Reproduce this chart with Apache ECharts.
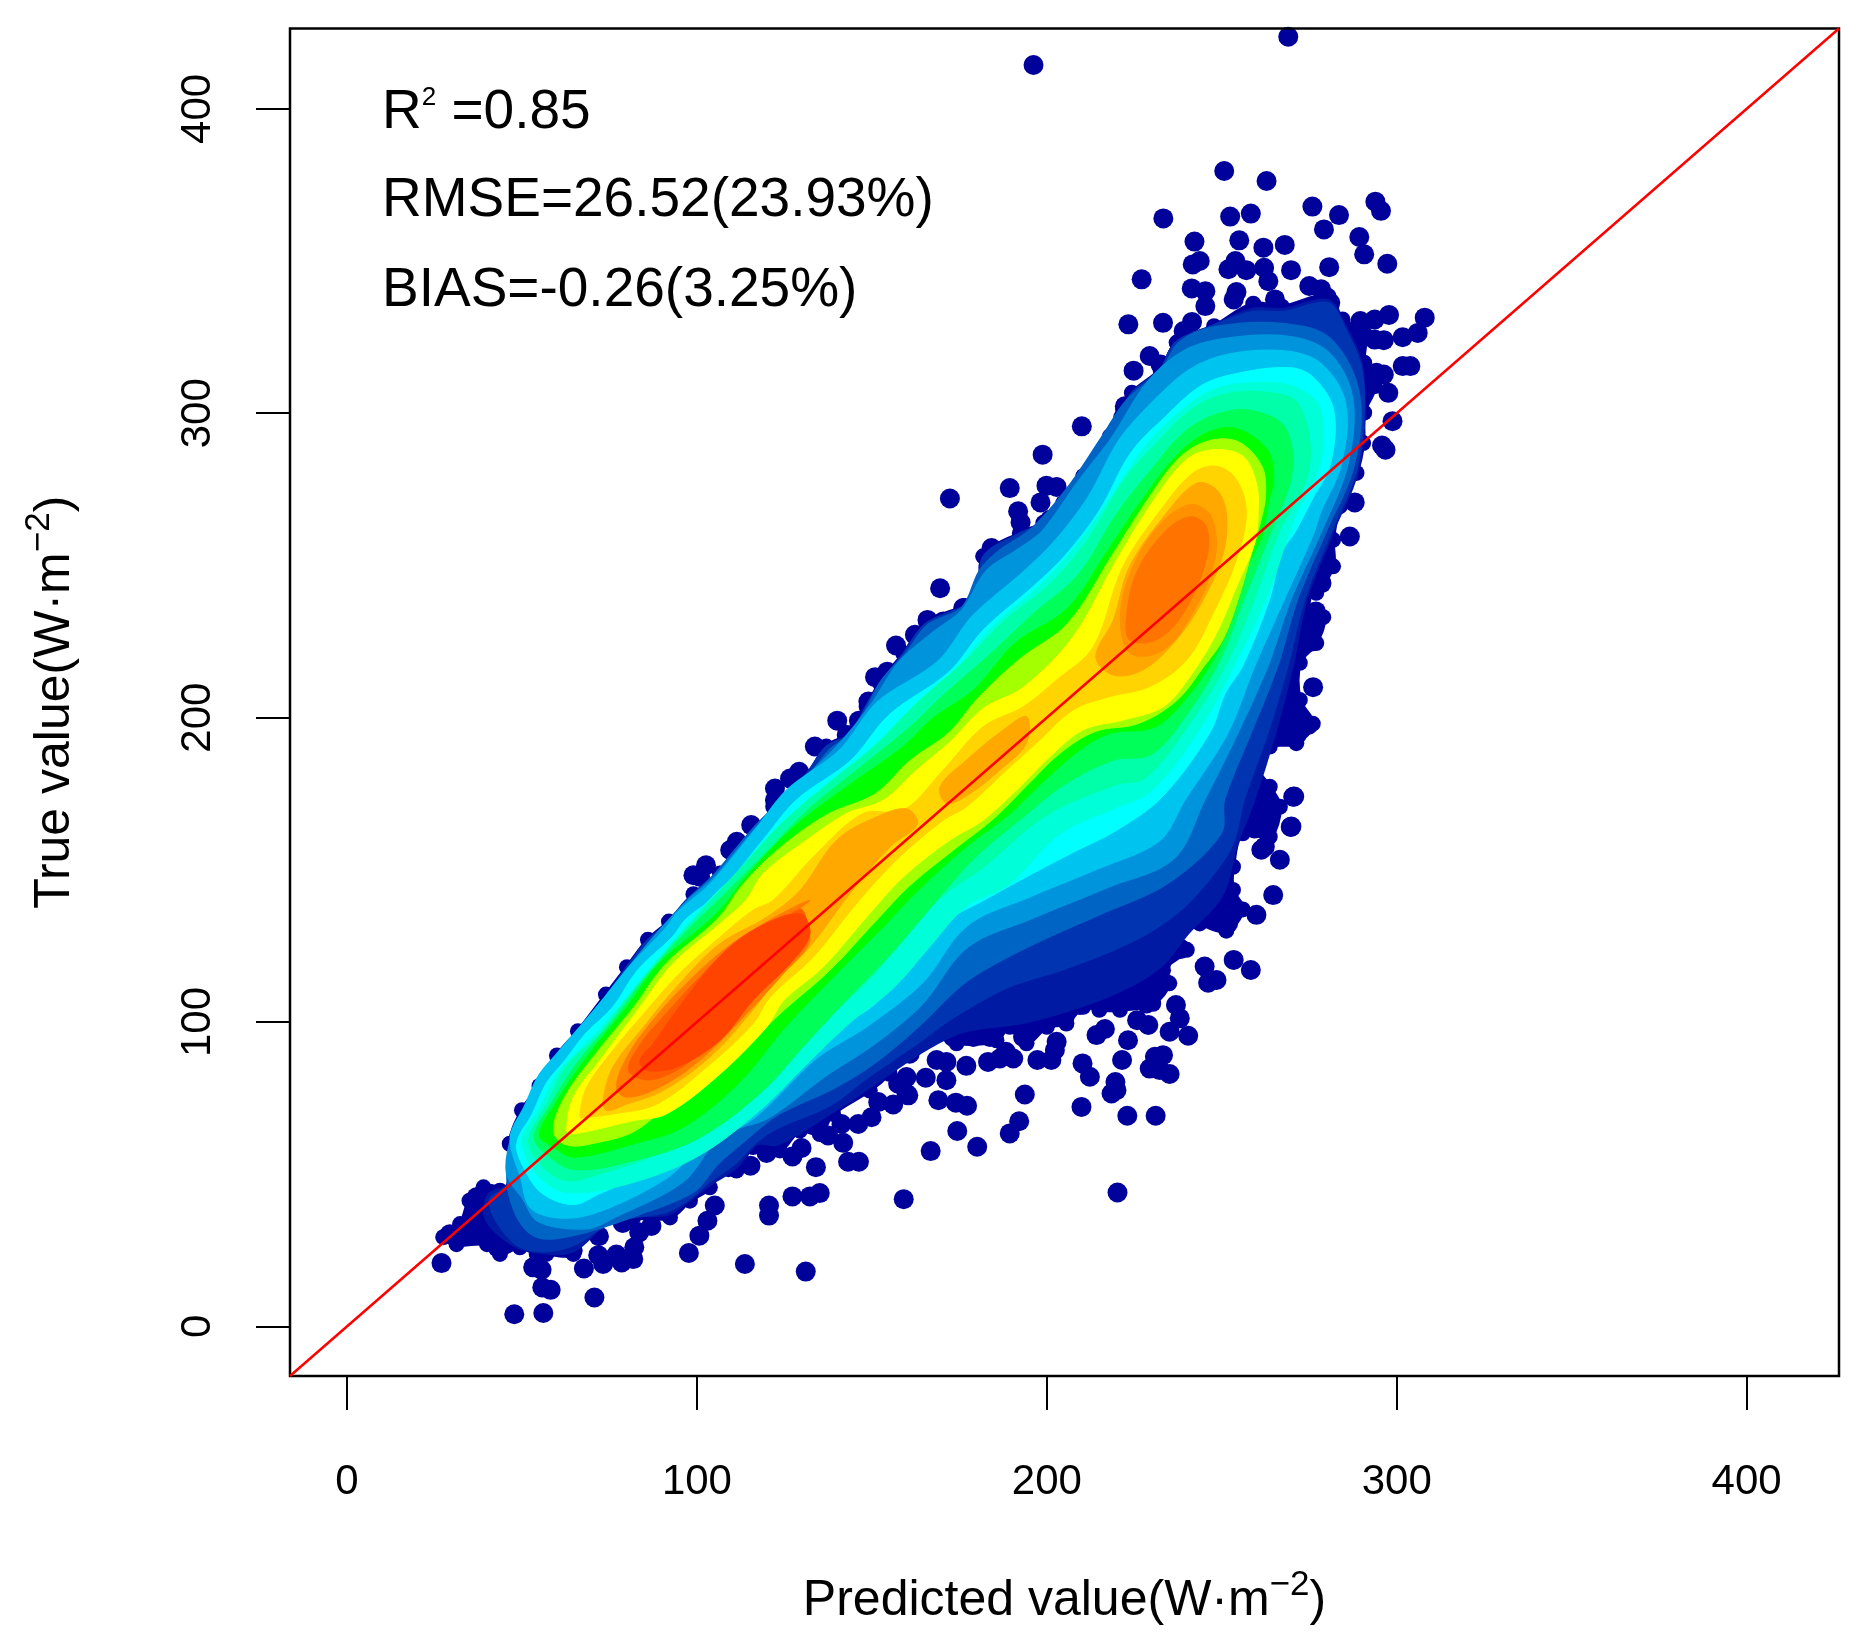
<!DOCTYPE html>
<html><head><meta charset="utf-8"><style>html,body{margin:0;padding:0;background:#fff}#c{width:1861px;height:1649px}</style>
<script src="https://cdn.jsdelivr.net/npm/echarts@6/dist/echarts.min.js"></script></head><body><div id="c"></div>
<script>
const xTicks=[0,100,200,300,400];
const yTicks=[0,100,200,300,400];
const axisMin=-16.3, axisMax=426.4;
const outliers=[[102.6,151.5],[99,148.2],[100.9,147.7],[111.4,159.2],[109.5,156.5],[115.5,164.7],[122.3,176.7],[126.6,180],[129.2,182.2],[122.3,172.9],[133.7,190.5],[140.1,199],[146.3,199],[142.8,194.3],[149,205.3],[150.9,213.3],[154.4,215.1],[156.9,223.7],[162.3,227.2],[165.9,232.1],[170.4,231.6],[176.6,236],
[47.8,4],[56.1,4.4],[70.7,9.5],[55.8,12.8],[58.2,12],[53.2,19.4],[55.6,18.6],[27,20.8],[67.7,19],[73.2,20.5],[71.8,23.4],[78.5,21],[81.8,22.1],[77,23.6],[82.1,26],[72,29.6],[83.5,30.9],[87,33],[78.8,34],[97.7,24.1],[100.7,29.8],[103,34.7],[105.1,39.7],[113.7,20.5],[131.1,18],[120.6,36.4],[120.6,39.7],[127.3,42.7],[132.3,42.7],[135.1,43.8],[159.1,41.8],[115.3,52.8],[134,52.3],[143.2,54.1],[146.3,54.1],[141.8,60.3],[127.3,55.8],[129.9,58.6],[119.9,57],[109,52.3],[43,26],[38.5,29.8],[32.8,29.3],[29.4,30.3],[37,42.4],[41.3,43.5],[64.5,25],[49.4,28.2],[137.5,62.7],[141.3,66.5],[146.1,66.5],[149.9,68.7],[151.8,73.7],[156.1,72.9],[160.4,75.9],[157.5,79.7],[159.9,81.9],[154.4,84.6],[160.8,89.6],
[220.2,44],[166.8,57.6],[180.1,59],[174.4,64.2],[189.4,63.4],[192.1,67.4],[209.9,72.1],[223,69.2],[231.1,69.2],[193.7,76.2],[169,74.3],[174,73.5],[177.2,72.5],[159.9,76.5],[171.3,80.9],[165.4,81.7],[177,85.6],[168.5,87.5],[171.3,86.9],[183.2,86.9],[186.6,88],[188.3,90.2],[190.4,88],[197.3,87.5],[201.3,87.5],[202.3,90.8],[202.8,93.5],[218.5,76.5],[219.9,77.6],[219.6,80.3],[212.3,82],[210.2,86.4],[221.5,87.5],[223.2,94],[214.2,95.7],[216.6,97.7],[225.8,100.6],[229,99],[229.4,84.7],[230.9,88.6],[233.2,89.1],[232.3,84.2],[235.1,82.9],[235.1,96.8],[240.4,95.5],[238,101.2],[236.9,105.6],[246.1,112.9],[248.5,113.8],[245.1,118.2],[253.4,120.4],[258.3,117.1],[238.3,124],[232.8,119.6],[233.2,113.2],[228.5,106.1],[220.4,106.1],[215.1,107.2],[209.4,105.6],[205.1,101.7],[199.9,100],[193.2,95.1],[192.3,98.4],[183.7,95.1],[179,95.1],[173.2,95.1],[190.9,107.2],[197,106.1],[251.8,132.4],[259.9,135.2],[264.7,141.7],[253.7,137.4],[243.7,135.7],[239.9,135.7],[266.6,153.3],[261.3,156.6],[269.9,164.2],[259.4,164.2],[262.8,163.1],[264.7,170.8],[270.7,174.1],
[196.2,414.4],[269,423.7],[250.7,379.6],[262.8,376.3],[233.3,364],[252.4,364.6],[258.3,365.6],[275.9,367.9],[283.5,365.1],[293.9,369.5],[295.5,366.5],[279.2,360.4],[289.3,357.9],[242.2,356.4],[255,356.8],[261.9,354.4],[268,355.3],[290.7,352.2],[297.3,349.1],[280.7,348],[269.8,347],[227.1,344],[243.7,350],[241.7,348.9],[253.9,350],[251.9,347.3],[257,347],[262.1,347.8],[263.3,343.4],[241.4,341],[245.3,340.1],[254.2,339.8],[245.3,335.2],[253.4,337.4],[275,341.8],[278.4,340.7],[281,336.3],[265.2,337.4],[223.3,329.2],[233.2,329.7],[241.5,330],[239.1,327],[297.8,332.3],[293.7,330.8],[289.6,330.3],[308,331.4],[306,326.4],[301.7,325],[293.7,324.2],[296.3,324],[229.4,318.8],[232.5,316],[224.8,314],[301.7,315.5],[303.9,315.5],[294.2,313.3],[296.3,312.7],[297.6,306.7],[298.8,297.4],[295.8,289.4],[296.8,288],[222.3,302.3],[221.8,298.5],[210,295.7],[198.8,286.4],
[189.4,275.4],[199.9,276.2],[202.8,275.8],[198.2,270.7],[191.8,267.8],[192.5,264.1],[200.9,265],[184.2,255.7],[192.8,257.4],[188.5,250.8],[183.3,251.9],[183.3,246.4],[288,270.7],[286.6,259.5],[278.5,244.2],[276.9,234.9],[275.6,225],[276.1,210],[274.7,197.6],[271.4,194.3],[270.4,174],[269.7,164.1],[261.8,174],[259.4,163.6],[262.8,163],[262.3,157.6],[264.2,170.7],[176.1,236],[172.3,272],[169.5,242.5]];
const bandNavy=[[35,41.3],[39,45.7],[43.7,44.6],[48.5,50],[46.5,60],[50,71],[55,79],[60,89],[66,97],[74,109],[80,118],[86,127],[92,133],[99,142],[106.6,148.8],[110.4,155.4],[118,163],[121.8,170.7],[131.4,180.6],[137,190.5],[143.7,194.8],[148.5,203.6],[152.3,211.3],[159,221],[165.6,231],[176.1,236.5],[180.9,239.8],[181.8,253],[192.3,260.6],[199,264],[204.7,270.5],[210.4,279.3],[218,292.4],[221.8,301.2],[224.3,306.7],[232.5,314.4],[237.1,323.2],[247.8,328.6],[259,336],[267.2,335],[280.5,338.5],[284.5,330.8],[290.7,326.4],[290.7,316.6],[293.7,308.9],[290.7,300.2],[290.4,290.2],[288.5,280.4],[283.7,269.4],[281.8,258.4],[281.8,249.7],[277,241],[273.3,238.7],[279,233],[277,224.5],[272.3,218],[272.3,205.8],[276,198],[271.3,191.6],[263.7,190.5],[260,184],[263.7,177.3],[266.6,170.7],[263.7,160.9],[256,162],[253.2,151],[253.2,143.4],[256,137],[251.3,130],[243.7,132.4],[237,135.7],[237,125.9],[240,123.7],[233.2,117],[235,112.7],[230.4,106],[220.9,104],[215,104],[210.4,105],[205.6,99.5],[200,98.4],[194.2,93],[189.4,98.4],[185.6,94],[174.2,93],[167.5,96.2],[161.8,91.9],[155,83],[149.4,77.5],[138.9,69.8],[135.1,63.2],[129.4,64.3],[123.7,57.8],[116,58.9],[111.3,51.2],[104.7,52.3],[103.7,45.7],[98,41.3],[92.3,35.8],[81.8,35.8],[74.2,36.9],[65.6,31.4],[64.7,23.8],[57,23.8],[54.2,23.8],[49.4,26],[43.7,23.8],[40,27],[31.3,27],[27.5,29.3],[32.3,33.6]];
const bandInk=[[47,60],[50,70],[55,79],[60,88.5],[66,96.5],[74,108],[80,117.5],[86,126.5],[92,132.5],[99,141.5],[106.6,148.5],[110.5,155],[118,162.5],[122,170.5],[131,180.5],[137,190],[144,194.5],[148.5,203.5],[152.5,211],[159,220.5],[165.5,230.5],[176,236],[181,239.5],[182,252.5],[192,260],[199,263.5],[205,270],[210.5,279],[218,292],[222,301],[224.5,306.5],[232.5,314],[237,323],[247.5,328.5],[259,334],[268,334],[280,337],[284,331],[290,314],[289,283],[281.5,261],[274,239],[270,217],[265,195],[259,173],[254,158],[250,142],[240,129],[232,118],[220,110],[206,104],[193,100],[176,97],[163.7,90],[149,78.5],[138.5,70.5],[123,60],[117,60],[110.8,52],[104,47],[98,41.8],[91.5,37],[76,35.7],[64.7,25],[55,24.5],[47.5,27],[40,35],[40.5,43],[46,46.5]];
const bandRoyal=[[47,60],[50,70],[55,79],[60,88.5],[66,96.5],[74,108],[80,117.5],[86,126.5],[92,132.5],[99,141.5],[106.6,148.5],[110.5,155],[118,162.5],[122,170.5],[131,180.5],[137,190],[144,194.5],[148.5,203.5],[152.5,211],[159,220.5],[165.5,230.5],[176,236],[181,239.5],[182,252.5],[192,260],[199,263.5],[205,270],[210.5,279],[218,292],[222,301],[224.5,306.5],[232.5,314],[237,323],[247.5,328.5],[259,333],[268,333],[280,336],[284,330],[290,312],[288.5,283],[280.9,261],[273.3,239],[268.5,217],[262.8,195],[256,173],[253,159],[247.5,149],[238,137],[224.7,127],[205.6,118],[188.5,111.6],[173,101.7],[163.7,94],[148.5,82],[138,73],[122.8,65.4],[117,61],[110.4,53.4],[103.7,48],[98,42.4],[91.3,38],[76,34.7],[64.7,27],[55,25],[47.5,28],[41,41],[46.6,46.8]];
const bandMid=[[47,60],[51,70],[55,80],[60,88],[66,96],[74,107],[81,117.5],[90,130],[98,140.5],[105,148],[116,163],[122,170],[132,180.5],[138,189],[144,194.5],[149,203.5],[153,212],[160,221],[166,230],[176,236],[181,248],[186,254],[196,262],[206,275],[216,292],[223,304],[233,314],[238,323],[248,328],[268,329],[281,324],[289,306],[287.5,283],[279.4,261],[271.3,239],[265.6,217],[258,195],[250.4,173],[249.4,162],[234,145.6],[215,135.7],[194,124.8],[177,113.8],[163.7,99.4],[151.3,87.4],[139,78.6],[122.8,69.8],[113.2,61],[105.6,53.4],[99,44.6],[85.6,38],[64.7,30.3],[53.2,30.3],[46.6,43.5]];
const bandSky=[[47,61],[51,71],[55,81],[60,88.5],[66,96.5],[74,107.5],[81,118],[90,130.5],[98,140],[105,147],[116,162],[126,174.5],[140,190],[150,204],[158,218],[168,228],[176,235],[183,248],[192,255],[199,261],[209,277],[219,292],[229,310],[239,320],[250,324],[268,325],[280,320],[287,305],[285.6,283],[278,261],[269.4,239],[262.8,217],[254.2,195],[244.7,173],[236,154],[217,144.5],[196,134.6],[177,124.8],[164,106],[150.4,93],[137,83],[120,68.7],[106.6,63],[96,48],[76,36],[68.5,32.5],[55,34.7],[50.4,42.4],[46,50]];
const bandAzure=[[47,62],[51,72],[55,82],[60,89],[66,97],[74,108],[81,118],[91,130],[95,136],[104,145],[117,163],[126,176],[141,189],[152,205],[169,218],[179,233],[193,247],[202,257],[212,272],[221,291],[231,304],[241,314],[252,319],[268,320],[278,316],[285,303],[283.7,283],[278,268],[276,261],[267.5,239],[259,217],[251.3,195],[239,173],[232,160],[215,151],[196,142],[177,132],[164,113],[148.5,99],[134,88.5],[116,68.7],[101,59],[91,49],[74,39],[63,36],[53,39],[50,49]];
const bandCyan=[[48.5,60],[53,70],[57,80],[62,87],[68,96],[76,105],[83,117],[93,128],[97,134],[106,142],[119,160],[128.5,173],[144,186],[155,201],[172,215],[182,229],[196,243],[205,253],[215,268],[224,287],[234,299],[244,309],[254,313],[269,315],[276,312],[282,301],[281,283],[276,272],[271,261],[267,254],[263.7,239],[256,217],[251,208],[246.6,195],[233,174],[220,163],[208,156],[196,148.8],[182,140],[172,133.4],[160,118],[151,106],[139,97],[127.5,86],[110,69],[91,53.4],[72,43.5],[64.7,40],[56,43.5],[51,51]];
const bandMint=[[50,61],[55,71.5],[60,83],[67,91.5],[74,100],[85,114.5],[95,129],[106,143],[118,155],[130,169],[146,182],[157,198],[174,216],[185,230.5],[198,243.5],[208,256],[218,272],[228,289],[237.5,300],[247,307.5],[258,310],[270,309],[278,302],[278,283],[271,266],[263,240],[253.5,217],[243,195],[230,176],[220,170.5],[204,162],[189,145],[177,138],[166,124],[156,111],[144,100],[133,88],[118,71],[100,55.7],[80,46.7],[63,44],[55,49]];
const bandAqua=[[52,62],[57,73],[63,86],[72,96],[80,108],[90,122],[101,136],[112,150],[124,165],[136,177],[151,191],[163,205],[176,218],[188,232],[201,244],[212,259],[222,278],[232,291],[241,301],[250,306],[262,307],[272,303],[275,282],[266,260],[259,238],[251,217],[239,195],[228,180],[220,178],[200,168],[181,150],[172,143],[160,130],[151,116],[139,103],[127,90],[110,73],[91,58],[72,50],[62,48],[54,55]];
const bandSpring=[[53.5,62.5],[58.5,73.5],[66,87],[76,100.5],[84.5,113.5],[95.5,128],[107,141],[120,156],[132,170],[147,184],[161,197],[171,208],[183,220],[196,234],[209,247],[220,267],[229.5,281],[239,293.5],[248,299.5],[258,301],[268,295.5],[270,280],[264,261],[256,238],[249.5,219],[240,201],[230,188],[219,186],[205,178],[194,168],[179,153.5],[166,136.5],[156,123],[145,110],[132,94],[118,76.5],[100,61.5],[82,54.5],[65,51.5],[56.5,57]];
const bandGreen=[[55,63],[60,74],[68.5,88.5],[80,105],[89,119],[105.6,135.6],[115,149],[127.6,164],[143.7,178],[159,190.5],[167.6,200],[179,209],[191,224.5],[206,236],[218,256],[227.5,272],[237,286],[245.6,293.5],[254,295],[263,288],[264.7,278],[263,269],[261.8,260.6],[257,248.6],[253.3,234],[248.5,221],[241,208],[231,197],[218,194.8],[209,189],[199,179],[189,168],[177,157.6],[163,143],[153,131],[140,116],[125,98],[112,80],[96,65.4],[82,60],[65,55.6],[59,58.9]];
const bandLime=[[59,64],[62,75],[70,88],[82,105],[91,119],[106,134],[113,145],[123,156.5],[137,168],[151,175],[161,186],[172,195],[180,206],[192,219],[206,231],[219,254],[229,272],[238,285.5],[246.5,291],[255,290.5],[261.5,282.5],[262.5,273],[261,264],[258.5,254],[255,240],[250.5,226],[245,217],[237,205.5],[226,198],[214,195.5],[204,188.5],[195,178.5],[185,167],[175,158],[161,145],[151,133],[138,117],[125,104],[116,94.5],[105.6,86],[91,72],[82,64],[72,60.5],[63,59.5]];
const bandYellow=[[62.8,64.3],[64.7,75.3],[72.3,87.4],[83.7,104.9],[93.2,119.2],[106.6,132.3],[114,140],[119,148.8],[131.4,159.8],[142.8,168.5],[153.3,172.9],[162.8,182.8],[172.3,192],[181.8,203],[193.3,210],[207.5,226.6],[220,251.9],[231.3,272.7],[240,284.8],[247.5,288],[256,285.9],[259.9,277],[260.4,267.2],[259.4,257.3],[254.2,243],[248.5,227.7],[240.9,213.5],[233.3,203.6],[221.8,199.2],[210.4,196],[200.9,187.2],[192.3,177.3],[181.8,166.3],[172.3,159.8],[159,147.7],[148.5,134.5],[136,118],[124.7,107],[119.9,98.3],[105.6,81.9],[91.3,69.8],[81.8,67.6],[64.7,63.2]];
const bandGold=[[66.6,68.7],[68.5,78.6],[76,90.7],[85.6,103.8],[95,115.9],[106.6,127.9],[116,136.7],[121.8,140],[134.2,155.4],[147.5,168.5],[159,169.6],[170.4,182.8],[181.8,197],[193.3,203.6],[202.8,212.4],[213.3,223.3],[221.8,249.7],[233.3,269.4],[241.8,280.4],[248.5,282.6],[254.2,278.2],[257,267.2],[254.2,251.9],[247.5,234.3],[240,219],[229.4,210.2],[218,206.9],[207.5,202.5],[197,191.6],[188.5,182.8],[177,170.7],[170.4,166.3],[157,153.2],[145.6,138.9],[133.3,121.4],[120.9,108.2],[116,99.4],[102.8,85.2],[88.5,73],[76.1,69.8],[68.5,68.7]];
const bandAmberLow=[[73.2,74.2],[76,85.2],[84.7,98.3],[95,112.6],[106.6,125.7],[120,134.5],[129.5,143.3],[140,159.8],[151.4,167.4],[160,170],[163,165],[155.2,157.6],[143.7,142.2],[132.3,124.7],[121.8,112.6],[115.1,102.7],[103.7,88.5],[90.4,77.5],[79.9,73],[74.2,70.9]];
const bandAmberMid=[[169.5,177.3],[177,186],[187.6,196],[194.2,200.3],[194.2,191.6],[186.6,182.8],[178,175],[171.4,171.8]];
const bandAmberHigh=[[214,220],[219,232],[223.7,249.7],[234.2,267.2],[242.8,277],[248.5,274.9],[251.3,267.2],[250.4,254],[244.7,238.7],[237,225.5],[227.5,215.7],[219,214]];
const bandFlameHigh=[[221,232],[224,248],[232,263],[241,270],[247,266],[248,252],[241,233],[233,222],[224,221]];
const bandOrangeLow=[[77,78.6],[80,88.5],[86.6,99.4],[96,111.5],[107.5,123.6],[119,132.3],[132.3,140],[127.6,134.5],[132.3,126.9],[124.7,115.9],[114.2,102.7],[100.8,87.4],[89.4,78.6],[79.9,75.3]];
const bandOrangeHigh=[[222.8,233.2],[225.6,247.5],[233.3,260.6],[240.9,266],[245.6,262.8],[245.6,251.9],[239,234.3],[231.3,225.5],[223.7,225.5]];
const bandScarlet=[[80.5,84],[84,93],[91,102.5],[101,115],[112,127],[125,134],[130,137],[131,128],[122,115],[110,100],[98,87],[87,81]];
const bandRed=[[83.7,87.4],[87.5,92.9],[94.2,103.8],[105.6,120.3],[116,130.1],[129.4,135.6],[132.3,129],[127.5,120.3],[116,107.1],[106.6,94],[94.2,85.2],[85.6,84.1]];
const bandList=[bandNavy,bandInk,bandRoyal,bandMid,bandSky,bandAzure,bandCyan,bandMint,bandAqua,bandSpring,bandGreen,bandLime,bandYellow,bandGold,bandAmberLow,bandAmberMid,bandAmberHigh,bandFlameHigh,bandOrangeLow,bandOrangeHigh,bandScarlet,bandRed];
const bandColors=['#00009A','#001AA4','#0034B0','#0064C4','#0094DC','#00C4F0','#00FFFF','#00FFD8','#00FFA8','#00FF58','#00FF00','#A4FF00','#FFFF00','#FFD400','#FFA800','#FFA800','#FFA800','#FF9000','#FF7C00','#FF7400','#FF5C00','#FF4400'];
const chart=echarts.init(document.getElementById('c'),null,{renderer:'canvas'});
const bandSeries=bandList.map((ring,i)=>({
  type:'custom',data:ring,z:3+i,silent:true,clip:true,
  renderItem(params,api){
    if(params.dataIndex!==0)return null;
    const pts=ring.map(p=>api.coord(p));
    const fillStyle={fill:bandColors[i],stroke:bandColors[i],lineWidth:i<6?4:1,lineJoin:'round'};
    const kids=[{type:'polygon',shape:{points:pts,smooth:0.35},style:fillStyle}];
    if(i===0)pts.forEach(c=>kids.push({type:'circle',shape:{cx:c[0],cy:c[1],r:8},style:{fill:bandColors[0]}}));
    return {type:'group',children:kids};
  }
}));
const font='"Liberation Sans",Arial,sans-serif';
const titleRich={a:{fontFamily:font,fontSize:50,color:'#000',lineHeight:58,verticalAlign:'bottom'},s:{fontFamily:font,fontSize:35,color:'#000',verticalAlign:'top',lineHeight:40,padding:[0,0,28,0]}};
chart.setOption({
  animation:false,backgroundColor:'#fff',
  grid:{left:290,right:22,top:28.5,bottom:273,outerBoundsMode:'none',show:true,borderColor:'#000',borderWidth:2.5,backgroundColor:'transparent',z:20},
  xAxis:{type:'value',min:axisMin,max:axisMax,splitLine:{show:false},axisLine:{show:false,onZero:false},
    axisTick:{show:true,length:34,lineStyle:{color:'#000',width:2},customValues:xTicks},
    axisLabel:{fontFamily:font,fontSize:42,color:'#000',margin:85,customValues:xTicks},
    name:'{a|Predicted value(W·m}{s|−2}{a|)}',nameLocation:'middle',nameGap:192,
    nameTextStyle:{rich:titleRich}},
  yAxis:{type:'value',min:axisMin,max:axisMax,splitLine:{show:false},axisLine:{show:false,onZero:false},
    axisTick:{show:true,length:34,lineStyle:{color:'#000',width:2},customValues:yTicks},
    axisLabel:{fontFamily:font,fontSize:42,color:'#000',margin:92,rotate:90,customValues:yTicks,align:'center',verticalAlign:'middle'},
    name:'{a|True value(W·m}{s|−2}{a|)}',nameLocation:'middle',nameGap:210,
    nameTextStyle:{rich:titleRich}},
  series:[
    {type:'scatter',name:'points',data:outliers,symbol:'circle',symbolSize:20,itemStyle:{color:'#00009A',opacity:1},z:2,silent:true,large:false},
    ...bandSeries,
    {type:'line',name:'1:1',data:[[axisMin,axisMin],[axisMax,axisMax]],symbol:'none',lineStyle:{color:'#FF0000',width:2.5},z:30,silent:true}
  ],
  graphic:[
    {type:'text',left:382,top:85,z:40,style:{rich:{a:{fontFamily:font,fontSize:55,fill:'#000'},s:{fontFamily:font,fontSize:26,fill:'#000',verticalAlign:'top'}},text:'{a|R}{s|2}{a| =0.85}',font:'55px '+font,fill:'#000'}},
    {type:'text',left:382,top:173,z:40,style:{text:'RMSE=26.52(23.93%)',font:'55px '+font,fill:'#000'}},
    {type:'text',left:382,top:263,z:40,style:{text:'BIAS=-0.26(3.25%)',font:'55px '+font,fill:'#000'}}
  ]
});
</script></body></html>
